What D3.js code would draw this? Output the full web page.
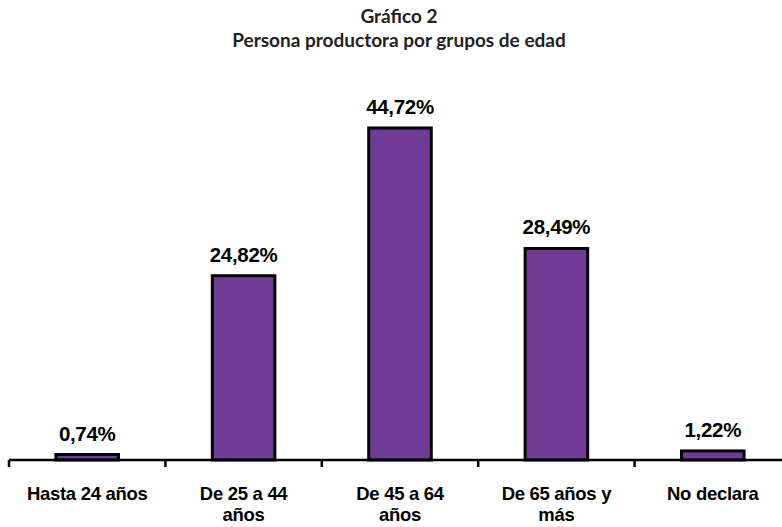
<!DOCTYPE html>
<html><head><meta charset="utf-8">
<script src="https://cdn.jsdelivr.net/npm/d3@7"></script>
<style>body{margin:0;background:#fff}</style>
</head><body>
<script>
const categories = [["Hasta 24 años"], ["De 25 a 44", "años"], ["De 45 a 64", "años"], ["De 65 años y", "más"], ["No declara"]];
const values = [0.74, 24.82, 44.72, 28.49, 1.22];
const valueLabels = ["0,74%", "24,82%", "44,72%", "28,49%", "1,22%"];
const titleLines = ["Gráfico 2", "Persona productora por grupos de edad"];

const W = 782, H = 527;
const svg = d3.select("body").append("svg").attr("width", W).attr("height", H);
const x0 = 9, x1 = 791, baseY = 460;
const x = d3.scaleBand().domain(d3.range(values.length)).range([x0, x1]).paddingInner(0.6).paddingOuter(0.3);
const y = d3.scaleLinear().domain([0, 44.72]).range([baseY, 128]);

svg.selectAll("text.title").data(titleLines).enter().append("text")
  .attr("x", 399).attr("y", (d, i) => 23 + i * 24).attr("text-anchor", "middle")
  .style("font-family", "Lato").style("font-weight", "bold")
  .style("font-size", "19px").attr("fill", "#222").text(d => d);

svg.selectAll("rect.bar").data(values).enter().append("rect")
  .attr("x", (d, i) => x(i)).attr("width", x.bandwidth())
  .attr("y", d => y(d)).attr("height", d => baseY - y(d))
  .attr("fill", "#6f3b96").attr("stroke", "#000").attr("stroke-width", 3);

svg.selectAll("text.val").data(values).enter().append("text")
  .attr("x", (d, i) => x(i) + x.bandwidth() / 2).attr("y", d => y(d) - 14)
  .attr("text-anchor", "middle").style("font-family", "'Liberation Sans'")
  .style("font-weight", "bold").style("font-size", "20.5px").attr("fill", "#000")
  .attr("letter-spacing", "-0.3px")
  .text((d, i) => valueLabels[i]);

const xa = d3.scaleBand().domain(d3.range(values.length)).range([x0, x1]);
svg.append("line").attr("x1", x0).attr("x2", x1).attr("y1", baseY).attr("y2", baseY)
  .attr("stroke", "#000").attr("stroke-width", 2.5);
svg.selectAll("line.tick").data(d3.range(values.length)).enter().append("line")
  .attr("x1", i => xa(i)).attr("x2", i => xa(i)).attr("y1", baseY).attr("y2", baseY + 7)
  .attr("stroke", "#000").attr("stroke-width", 2.5);

const lab = svg.selectAll("text.cat").data(categories).enter().append("text")
  .attr("text-anchor", "middle").style("font-family", "'Liberation Sans'")
  .style("font-weight", "bold").style("font-size", "18.5px").attr("fill", "#000")
  .attr("letter-spacing", "-0.3px")
  .attr("transform", (d, i) => `translate(${xa(i) + xa.bandwidth() / 2},500)`);
lab.selectAll("tspan").data(d => d).enter().append("tspan")
  .attr("x", 0).attr("y", (d, i) => i * 20.5).text(d => d);
</script>
</body></html>
